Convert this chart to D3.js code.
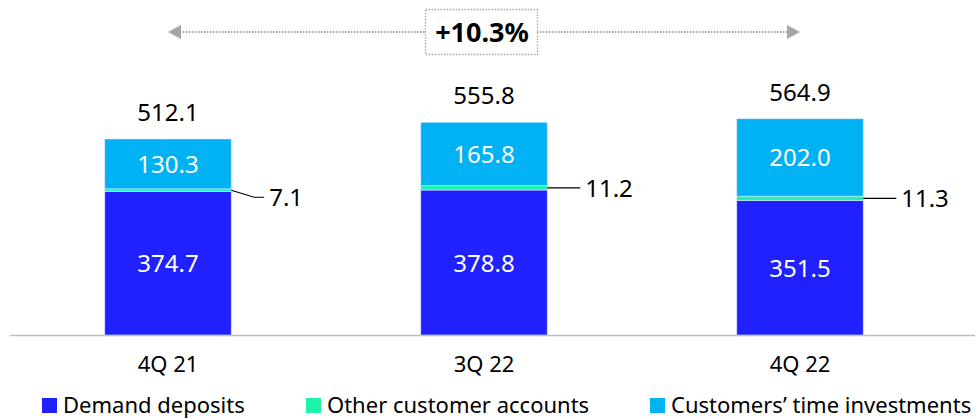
<!DOCTYPE html>
<html><head><meta charset="utf-8">
<script src="https://cdn.jsdelivr.net/npm/d3@7"></script>
<style>body{margin:0;background:#fff}svg{display:block}text{font-family:"Noto Sans","Open Sans",sans-serif}</style>
</head><body><svg id="c" width="979" height="419"></svg>
<script>
const categories = ["4Q 21", "3Q 22", "4Q 22"];
const demandDeposits = [374.7, 378.8, 351.5];
const otherAccounts = [7.1, 11.2, 11.3];
const timeInvestments = [130.3, 165.8, 202.0];
const totals = ["512.1", "555.8", "564.9"];
const seriesNames = ["Demand deposits", "Other customer accounts", "Customers\u2019 time investments"];
const growthLabel = "+10.3%";

const colors = ["#2121FF", "#1EF2AE", "#00B2F4"];
const svg = d3.select("#c");
const baseY = 335;
const x = d3.scaleBand().domain(categories).range([10, 958]).paddingInner(0.6).paddingOuter(0.3);
const y = d3.scaleLinear().domain([0, 512.1]).range([baseY, 139]);

const data = categories.map((c, i) => ({c, vals: [demandDeposits[i], otherAccounts[i], timeInvestments[i]]}));
const stack = d3.stack().keys([0, 1, 2]).value((d, k) => d.vals[k]);
const series = stack(data);

svg.append("line").attr("x1", 10).attr("x2", 975).attr("y1", baseY + 0.5).attr("y2", baseY + 0.5)
  .attr("stroke", "#bfbfbf").attr("stroke-width", 1.5);

series.forEach((s, k) => {
  svg.selectAll(null).data(s).enter().append("rect")
    .attr("x", d => x(d.data.c))
    .attr("width", x.bandwidth())
    .attr("y", d => y(d[1]))
    .attr("height", d => y(d[0]) - y(d[1]))
    .attr("fill", colors[k])
    .attr("stroke", "#d6e4ff").attr("stroke-width", 0.6);
});

[0, 2].forEach(k => {
  svg.selectAll(null).data(series[k]).enter().append("text")
    .attr("x", d => x(d.data.c) + x.bandwidth() / 2)
    .attr("y", d => (y(d[0]) + y(d[1])) / 2 + 9)
    .attr("text-anchor", "middle").attr("fill", "#fff").attr("font-size", 24)
    .text(d => d.data.vals[k].toFixed(1));
});

series[1].forEach((d, i) => {
  const x0 = x(d.data.c) + x.bandwidth();
  const ym = (y(d[0]) + y(d[1])) / 2;
  const ly = i === 0 ? ym + 7 : ym;
  svg.append("path")
    .attr("d", `M${x0},${ym}L${x0 + 23},${ly}L${x0 + 33},${ly}`)
    .attr("fill", "none").attr("stroke", "#000").attr("stroke-width", 1.2);
  svg.append("text").attr("x", x0 + 38).attr("y", ly + 9).attr("font-size", 24).attr("fill", "#000")
    .text(otherAccounts[i].toFixed(1));
});

svg.selectAll(null).data(data).enter().append("text")
  .attr("x", d => x(d.c) + x.bandwidth() / 2)
  .attr("y", d => y(d3.sum(d.vals)) - 18)
  .attr("text-anchor", "middle").attr("font-size", 24).attr("fill", "#000")
  .text((d, i) => totals[i]);

svg.selectAll(null).data(categories).enter().append("text")
  .attr("x", d => x(d) + x.bandwidth() / 2).attr("y", 372)
  .attr("text-anchor", "middle").attr("font-size", 22).attr("fill", "#000").text(d => d);

const ax1 = x(categories[0]) + x.bandwidth() / 2, ax2 = x(categories[2]) + x.bandwidth() / 2;
const ay = 32;
svg.append("line").attr("x1", ax1 + 12).attr("x2", 425).attr("y1", ay).attr("y2", ay)
  .attr("stroke", "#a6a6a6").attr("stroke-width", 2).attr("stroke-dasharray", "1.5,1.5");
svg.append("line").attr("x1", 537).attr("x2", ax2 - 12).attr("y1", ay).attr("y2", ay)
  .attr("stroke", "#a6a6a6").attr("stroke-width", 2).attr("stroke-dasharray", "1.5,1.5");
svg.append("path").attr("d", `M${ax1},${ay}L${ax1 + 13},${ay - 7}L${ax1 + 13},${ay + 7}Z`).attr("fill", "#a6a6a6");
svg.append("path").attr("d", `M${ax2},${ay}L${ax2 - 13},${ay - 7}L${ax2 - 13},${ay + 7}Z`).attr("fill", "#a6a6a6");
svg.append("rect").attr("x", 425.5).attr("y", 9.5).attr("width", 112).attr("height", 45)
  .attr("fill", "#fff").attr("stroke", "#a6a6a6").attr("stroke-width", 1.3).attr("stroke-dasharray", "1.5,1.5");
svg.append("text").attr("x", 482).attr("y", 42).attr("text-anchor", "middle")
  .attr("font-size", 27).attr("font-weight", "bold").attr("fill", "#000").text(growthLabel);

const legX = [42, 306, 650];
seriesNames.forEach((n, k) => {
  svg.append("rect").attr("x", legX[k]).attr("y", 398).attr("width", 15).attr("height", 15).attr("fill", colors[k]);
  svg.append("text").attr("x", legX[k] + 21).attr("y", 413).attr("font-size", 22).attr("fill", "#000").text(n);
});
</script></body></html>
